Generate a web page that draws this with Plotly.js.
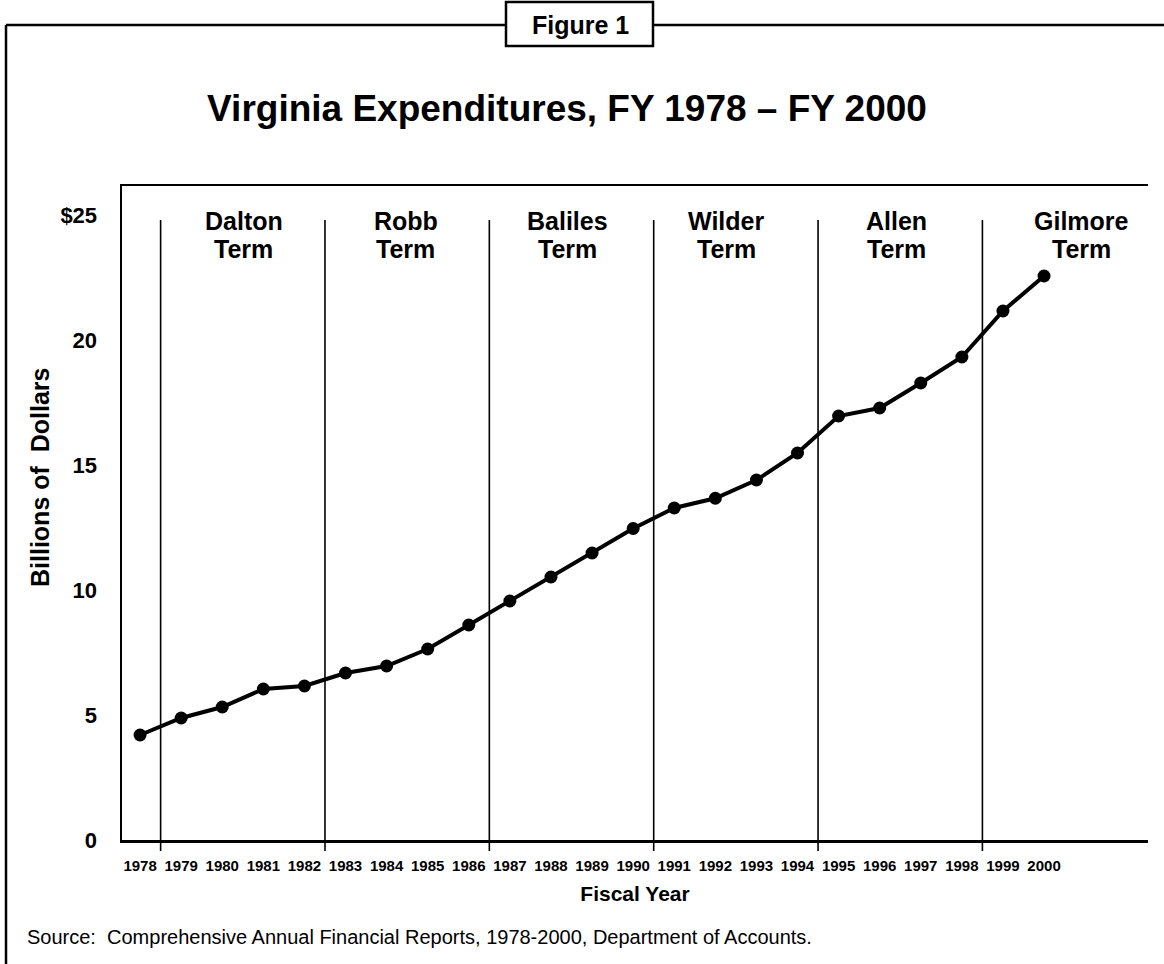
<!DOCTYPE html>
<html>
<head>
<meta charset="utf-8">
<script src="https://cdn.plot.ly/plotly-3.0.1.min.js"></script>
<style>
  html, body { margin: 0; padding: 0; background: #fff; }
  #chart { width: 1164px; height: 964px; }
</style>
</head>
<body>
<div id="chart"></div>
<script>
// ---- data ----
const years = ['1978','1979','1980','1981','1982','1983','1984','1985','1986','1987','1988','1989',
               '1990','1991','1992','1993','1994','1995','1996','1997','1998','1999','2000'];
const expenditures = [4.2, 4.88, 5.32, 6.04, 6.16, 6.68, 6.96, 7.64, 8.6, 9.56, 10.52, 11.48,
                      12.46, 13.28, 13.67, 14.4, 15.48, 16.96, 17.28, 18.28, 19.32, 21.16, 22.56];
const governors = ['Dalton', 'Robb', 'Baliles', 'Wilder', 'Allen', 'Gilmore'];
const termFirstYears = ['1979', '1983', '1987', '1991', '1995', '1999'];
const yTickValues = [0, 5, 10, 15, 20, 25];
const yTickLabels = ['0', '5', '10', '15', '20', '$25'];
const chartTitle = 'Virginia Expenditures, FY 1978 \u2013 FY 2000';
const figureLabel = 'Figure 1';
const xTitle = 'Fiscal Year';
const yTitle = 'Billions of\u00a0 Dollars';
const sourceNote = 'Source:\u00a0 Comprehensive Annual Financial Reports, 1978-2000, Department of Accounts.';

// ---- geometry (pixels) ----
const W = 1164, H = 964;
const L = 122, R = 1148, T = 186, B = 840;
const xRange = [-0.44, 24.53];
const yRange = [0, 26.16];
const pxX = p => (p - L) / (R - L);
const pxY = p => (B - p) / (B - T);
const idxX = i => (i - xRange[0]) / (xRange[1] - xRange[0]);

const ARIAL = 'Liberation Sans, Arial, Helvetica, sans-serif';
const NARROW = 'Liberation Sans Narrow, Arial Narrow, Liberation Sans, Arial, sans-serif';

const trace = {
  x: years,
  y: expenditures,
  type: 'scatter',
  mode: 'lines+markers',
  line: { color: '#000', width: 4 },
  marker: { color: '#000', size: 13 },
  hoverinfo: 'x+y',
  showlegend: false
};

const shapes = [];
// term dividers (extend slightly below the x axis like tick marks)
termFirstYears.forEach(y => {
  const xi = years.indexOf(y) - 0.5;
  shapes.push({
    type: 'line', xref: 'paper', yref: 'paper',
    x0: idxX(xi), x1: idxX(xi), y0: pxY(851), y1: pxY(220),
    line: { color: '#000', width: 1.6 }
  });
});
// outer frame: left and top edges, broken by the "Figure 1" box
shapes.push({ type: 'line', xref: 'paper', yref: 'paper',
  x0: pxX(6), x1: pxX(6), y0: pxY(25), y1: pxY(990), line: { color: '#000', width: 2.5 } });
shapes.push({ type: 'line', xref: 'paper', yref: 'paper',
  x0: pxX(6), x1: pxX(506), y0: pxY(25), y1: pxY(25), line: { color: '#000', width: 2.5 } });
shapes.push({ type: 'line', xref: 'paper', yref: 'paper',
  x0: pxX(653), x1: pxX(1170), y0: pxY(25), y1: pxY(25), line: { color: '#000', width: 2.5 } });
// "Figure 1" box
shapes.push({ type: 'rect', xref: 'paper', yref: 'paper',
  x0: pxX(506), x1: pxX(653), y0: pxY(46), y1: pxY(2),
  line: { color: '#000', width: 2.5 }, fillcolor: 'rgba(0,0,0,0)' });

const annotations = [];
const termLabelX = [2.52, 6.47, 10.41, 14.26, 18.42, 22.9];
governors.forEach((g, k) => {
  annotations.push({
    text: g, xref: 'x', yref: 'paper', x: termLabelX[k], y: pxY(221),
    xanchor: 'center', yanchor: 'middle', showarrow: false,
    font: { family: ARIAL, size: 25, color: '#000', weight: 'bold' }
  });
  annotations.push({
    text: 'Term', xref: 'x', yref: 'paper', x: termLabelX[k], y: pxY(249),
    xanchor: 'center', yanchor: 'middle', showarrow: false,
    font: { family: ARIAL, size: 25, color: '#000', weight: 'bold' }
  });
});
annotations.push({
  text: figureLabel, xref: 'paper', yref: 'paper', x: pxX(580), y: pxY(25),
  xanchor: 'center', yanchor: 'middle', showarrow: false,
  font: { family: ARIAL, size: 25, color: '#000', weight: 'bold' }
});
annotations.push({
  text: yTitle, xref: 'paper', yref: 'paper', x: pxX(40), y: pxY(478),
  xanchor: 'center', yanchor: 'middle', textangle: -90, showarrow: false,
  font: { family: ARIAL, size: 25, color: '#000', weight: 'bold' }
});
annotations.push({
  text: sourceNote, xref: 'paper', yref: 'paper', x: pxX(25), y: pxY(937),
  xanchor: 'left', yanchor: 'middle', showarrow: false,
  font: { family: ARIAL, size: 20, color: '#000' }
});

const layout = {
  width: W, height: H,
  margin: { l: L, r: W - R, t: T, b: H - B, pad: 0 },
  paper_bgcolor: '#fff', plot_bgcolor: '#fff',
  title: {
    text: chartTitle,
    x: 567 / W, xanchor: 'center', xref: 'container',
    y: 1 - 108 / H, yanchor: 'middle', yref: 'container',
    font: { family: ARIAL, size: 37, color: '#000', weight: 'bold' }
  },
  xaxis: {
    type: 'category',
    range: xRange,
    showgrid: false, zeroline: false,
    showline: true, mirror: true, linecolor: '#000', linewidth: 2.5,
    ticks: '', ticklabelstandoff: 10,
    tickfont: { family: NARROW, size: 15, color: '#000', weight: 'bold' },
    title: { text: xTitle, standoff: 14, font: { family: ARIAL, size: 21, color: '#000', weight: 'bold' } },
    fixedrange: true
  },
  yaxis: {
    range: yRange,
    tickmode: 'array', tickvals: yTickValues, ticktext: yTickLabels,
    showgrid: false, zeroline: false,
    showline: true, mirror: false, linecolor: '#000', linewidth: 2.5,
    ticks: '', ticklabelstandoff: 18,
    tickfont: { family: ARIAL, size: 22, color: '#000', weight: 'bold' },
    fixedrange: true
  },
  shapes: shapes,
  annotations: annotations,
  showlegend: false
};

Plotly.newPlot('chart', [trace], layout, { displayModeBar: false, staticPlot: true });
</script>
</body>
</html>
